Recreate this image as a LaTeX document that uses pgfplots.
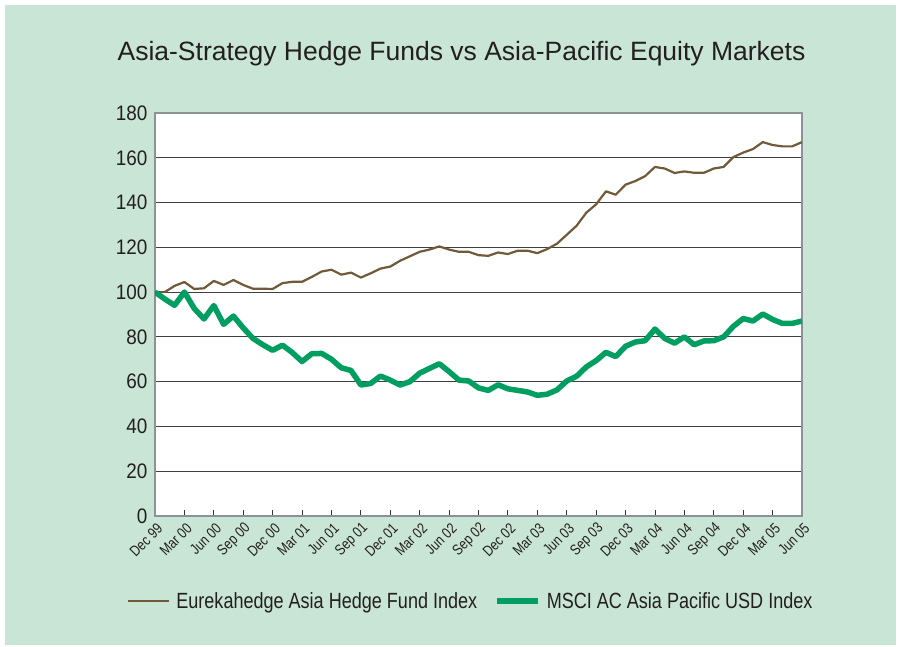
\documentclass[border=0pt]{standalone}
\usepackage{fontspec}
\setmainfont{Liberation Sans}
\newfontfamily\condfont[FakeStretch=0.82]{Liberation Sans}
\newfontfamily\tickfont[FakeStretch=0.9]{Liberation Sans}
\usepackage{pgfplots}
\usepackage{pgfplotstable}
\pgfplotsset{compat=1.18}
\definecolor{panel}{RGB}{201,229,214}
\definecolor{hfbrown}{RGB}{112,90,58}
\definecolor{msgreen}{RGB}{0,158,96}
\definecolor{frame}{RGB}{140,146,152}
\definecolor{txt}{RGB}{35,31,32}
\pgfplotstableread{
m hf msci
0 100 100
1 100 96.9
2 102.8 94.1
3 104.5 100
4 101.4 92.7
5 101.7 88
6 105 94
7 103.2 85.6
8 105.4 89.3
9 103.2 84
10 101.5 79.3
11 101.5 76.5
12 101.4 74
13 104 76.3
14 104.6 73
15 104.6 69
16 106.8 72.5
17 109.2 72.6
18 110 70
19 107.8 66.2
20 108.7 65
21 106.5 58.5
22 108.4 59.2
23 110.5 62.5
24 111.4 60.7
25 114 58.5
26 116 60
27 118 63.8
28 119 65.9
29 120.4 68
30 119 64.5
31 118 60.7
32 118 60.3
33 116.5 57.2
34 116.2 56.1
35 117.7 58.6
36 117 56.8
37 118.5 56.1
38 118.5 55.4
39 117.4 53.9
40 119.2 54.4
41 121.6 56.3
42 125.6 60.3
43 129.6 62.4
44 135.5 66.6
45 139.2 69.4
46 145 73.1
47 143.5 71.2
48 148 75.8
49 149.6 77.7
50 151.8 78.3
51 155.9 83.5
52 155.2 79.3
53 153.2 77.2
54 153.9 80
55 153.3 76.5
56 153.3 78.2
57 155.2 78.3
58 155.9 80
59 160.3 84.7
60 162.3 88.2
61 163.9 87.1
62 167 90.2
63 165.7 87.8
64 165.1 86
65 165.1 86
66 167 87.1
}\data
\begin{document}
\begin{tikzpicture}
\useasboundingbox (0pt,0pt) rectangle (900pt,647pt);
\fill[white] (0pt,0pt) rectangle (900pt,647pt);
\fill[panel] (5pt,2pt) rectangle (896pt,642pt);
\node[anchor=base, text=txt, font=\fontsize{26.5}{30}\selectfont] at (461.5pt,586pt)
  {Asia-Strategy Hedge Funds vs Asia-Pacific Equity Markets};
\begin{axis}[
  at={(155pt,131pt)}, anchor=south west,
  width=647pt, height=403pt, scale only axis,
  xmin=0, xmax=66, ymin=0, ymax=180,
  axis background/.style={fill=white},
  axis line style={draw=frame, line width=2pt},
  ytick={0,20,...,180},
  ymajorgrids,
  grid style={black!75, line width=0.8pt},
  xtick={0,3,...,66},
  xticklabels={Dec 99,Mar 00,Jun 00,Sep 00,Dec 00,Mar 01,Jun 01,Sep 01,Dec 01,Mar 02,Jun 02,Sep 02,Dec 02,Mar 03,Jun 03,Sep 03,Dec 03,Mar 04,Jun 04,Sep 04,Dec 04,Mar 05,Jun 05},
  tick pos=left,
  tick align=inside,
  major tick length=6pt,
  xtick style={black!80, line width=0.9pt},
  ytick style={draw=none},
  /pgf/number format/assume math mode=true,
  yticklabel style={font=\tickfont\fontsize{21}{24}\selectfont, text=txt, xshift=-4pt},
  xticklabel style={font=\condfont\fontsize{15}{17}\selectfont, text=txt, inner sep=0pt, xshift=5pt, yshift=-10pt, rotate=45, anchor=east},
  legend columns=2,
  legend style={at={(-0.0433,-0.211)}, anchor=west, draw=none, fill=none,
    inner sep=0pt, font=\condfont\fontsize{22}{26}\selectfont, text=txt,
    /tikz/every even column/.append style={column sep=15pt},
    /tikz/every odd column/.append style={column sep=4pt}},
  legend cell align=left,
  legend image code/.code={\draw[#1] (0pt,0pt) -- (41pt,0pt);},
]
\addplot[color=hfbrown, line width=2.2pt, line join=round] table[x=m, y=hf] {\data};
\addlegendentry{Eurekahedge Asia Hedge Fund Index}
\addplot[color=msgreen, line width=5.5pt, line join=round] table[x=m, y=msci] {\data};
\addlegendentry{MSCI AC Asia Pacific USD Index}
\end{axis}
\end{tikzpicture}
\end{document}
